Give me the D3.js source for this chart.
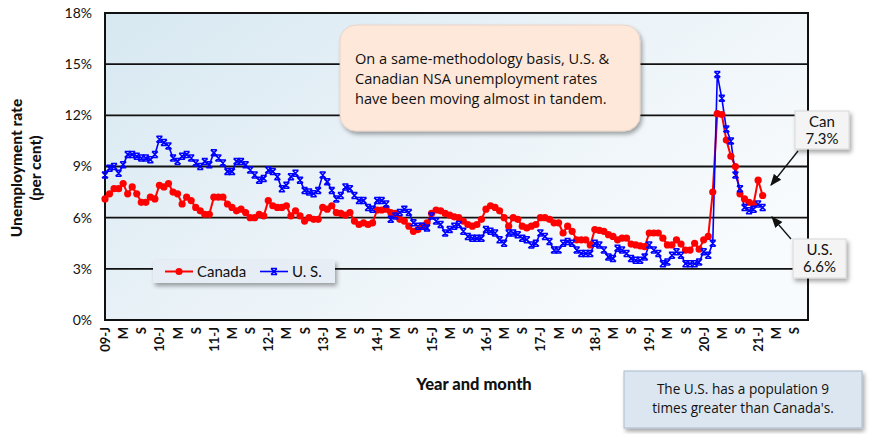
<!DOCTYPE html>
<html><head><meta charset="utf-8">
<script src="https://cdn.jsdelivr.net/npm/d3@7/dist/d3.min.js"></script>
<style>body{margin:0;background:#fff}svg{display:block}</style>
</head><body><svg id="c" width="870" height="434"></svg>
<script>
const years = [2009,2010,2011,2012,2013,2014,2015,2016,2017,2018,2019,2020,2021];
const monthLetters = ["J","F","M","A","M","J","J","A","S","O","N","D"];
const yTicks = [0,3,6,9,12,15,18];
const canada = [7.1,7.4,7.7,7.7,8.0,7.4,7.8,7.4,6.9,6.9,7.2,7.1,
 7.9,7.8,8.0,7.5,7.4,6.8,7.2,7.0,6.6,6.4,6.2,6.2,
 7.2,7.2,7.2,6.8,6.6,6.4,6.5,6.3,6.0,6.0,6.2,6.1,
 7.0,6.7,6.6,6.6,6.7,6.1,6.4,6.1,5.8,6.0,5.9,5.9,
 6.6,6.5,6.7,6.3,6.25,6.15,6.3,5.8,5.6,5.7,5.6,5.7,
 6.45,6.45,6.5,6.3,6.25,5.9,5.8,5.5,5.2,5.3,5.5,5.7,
 6.25,6.45,6.4,6.25,6.15,6.05,6.0,5.8,5.6,5.5,5.6,5.9,
 6.5,6.7,6.6,6.4,6.0,5.5,6.0,5.9,5.5,5.4,5.5,5.6,
 6.0,6.0,5.9,5.7,5.7,5.1,5.5,5.2,4.7,4.7,4.7,4.4,
 5.3,5.25,5.2,5.0,4.9,4.7,4.8,4.8,4.45,4.4,4.35,4.3,
 5.1,5.1,5.1,4.8,4.4,4.4,4.7,4.45,4.1,4.1,4.5,4.15,
 4.7,4.9,7.5,12.1,12.05,10.55,9.6,9.0,7.4,7.1,6.9,6.8,
 8.2,7.3];
const us = [8.5,8.9,9.0,8.6,9.1,9.7,9.7,9.6,9.5,9.5,9.4,9.7,
 10.6,10.4,10.2,9.5,9.3,9.6,9.7,9.5,9.2,9.0,9.3,9.1,
 9.8,9.5,9.2,8.7,8.7,9.3,9.3,9.1,8.8,8.5,8.2,8.3,
 8.8,8.7,8.4,7.7,7.9,8.4,8.6,8.2,7.6,7.5,7.4,7.6,
 8.5,8.1,7.6,7.1,7.3,7.8,7.7,7.3,7.0,7.0,6.6,6.5,
 7.0,7.0,6.8,5.9,6.1,6.3,6.5,6.3,5.7,5.5,5.5,5.4,
 6.1,5.8,5.6,5.1,5.3,5.5,5.6,5.2,4.9,4.8,4.8,4.8,
 5.3,5.2,5.1,4.7,4.5,5.1,5.1,5.0,4.8,4.7,4.4,4.5,
 5.1,4.9,4.6,4.1,4.1,4.5,4.6,4.5,4.1,3.9,3.9,3.9,
 4.5,4.4,4.1,3.7,3.6,4.2,4.1,3.9,3.6,3.5,3.5,3.7,
 4.4,4.1,3.9,3.3,3.4,3.8,4.0,3.8,3.3,3.3,3.3,3.4,
 4.0,3.8,4.5,14.4,13.0,11.2,10.5,8.5,7.7,6.6,6.4,6.5,
 6.8,6.6];

const months = [];
years.forEach(y => monthLetters.forEach((m, k) => months.push({y, k, key: y + "-" + k})));

const svg = d3.select("#c");
const L = 105, R = 808, T = 13, B = 320;
const x = d3.scalePoint().domain(months.map(d => d.key)).range([L, R]).padding(0);
const y = d3.scaleLinear().domain([0, 18]).range([B, T]);

const defs = svg.append("defs");
const g1 = defs.append("linearGradient").attr("id","bg").attr("x1","0").attr("y1","0").attr("x2","1").attr("y2","0.6");
g1.append("stop").attr("offset","0").attr("stop-color","#d7e8f1");
g1.append("stop").attr("offset","0.55").attr("stop-color","#ebf3f8");
g1.append("stop").attr("offset","1").attr("stop-color","#f8fbfd");
const f = defs.append("filter").attr("id","sh").attr("x","-10%").attr("y","-10%").attr("width","130%").attr("height","140%");
f.append("feDropShadow").attr("dx",2).attr("dy",3).attr("stdDeviation",2).attr("flood-color","#000").attr("flood-opacity",0.35);

svg.append("rect").attr("x",L).attr("y",T).attr("width",R-L).attr("height",B-T).attr("fill","url(#bg)");

// gridlines
svg.append("g").selectAll("line").data(yTicks.filter(v => v > 0 && v < 18)).join("line")
  .attr("x1",L).attr("x2",R).attr("y1",d=>y(d)).attr("y2",d=>y(d))
  .attr("stroke","#111").attr("stroke-width",1.8);

// y axis labels
const yAxis = d3.axisLeft(y).tickValues(yTicks).tickFormat(d => d + "%").tickSize(0).tickPadding(13);
const ya = svg.append("g").attr("transform",`translate(${L},0)`).call(yAxis);
ya.select(".domain").remove();
ya.selectAll("text").attr("font-family","Lato, sans-serif").attr("font-size",14).attr("fill","#111");

// x axis labels
const tickKeys = months.filter((d,i) => i % 4 === 0).map(d => d.key);
const xAxis = d3.axisBottom(x).tickValues(tickKeys).tickSize(0)
  .tickFormat(k => { const d = months.find(m => m.key === k); return d.k === 0 ? String(d.y).slice(2) + "-J" : monthLetters[d.k]; });
const xa = svg.append("g").attr("transform",`translate(0,${B})`).call(xAxis);
xa.select(".domain").remove();
xa.selectAll("text").attr("font-family","Lato, sans-serif").attr("font-size",13).attr("font-weight","bold").attr("fill","#111")
  .attr("transform","rotate(-90)").attr("text-anchor","end").attr("x",-7).attr("y",0).attr("dy","0.35em");

// border
svg.append("rect").attr("x",L).attr("y",T).attr("width",R-L).attr("height",B-T).attr("fill","none").attr("stroke","#111").attr("stroke-width",2);

// series
const line = d3.line().x((d,i) => x(months[i].key)).y(d => y(d));
svg.append("path").datum(canada).attr("d",line).attr("fill","none").attr("stroke","#ff0000").attr("stroke-width",2);
svg.append("path").datum(us).attr("d",line).attr("fill","none").attr("stroke","#0000ff").attr("stroke-width",1.6);
svg.append("g").selectAll("circle").data(canada).join("circle")
  .attr("cx",(d,i)=>x(months[i].key)).attr("cy",d=>y(d)).attr("r",3.6).attr("fill","#ff0000");
function xMark(g, cx, cy) {
  const s = 3;
  g.append("path").attr("d",`M${cx-s},${cy-s}L${cx+s},${cy+s}M${cx+s},${cy-s}L${cx-s},${cy+s}M${cx-s},${cy-s}H${cx+s}M${cx-s},${cy+s}H${cx+s}`)
   .attr("stroke","#0000ff").attr("stroke-width",1.5).attr("fill","none");
}
const um = svg.append("g");
us.forEach((d,i) => xMark(um, x(months[i].key), y(d)));

// legend
const lg = svg.append("g");
lg.append("rect").attr("x",153).attr("y",260).attr("width",182).attr("height",23).attr("fill","#e6edf5").attr("filter","url(#sh)");
lg.append("line").attr("x1",165).attr("x2",193).attr("y1",271.5).attr("y2",271.5).attr("stroke","#ff0000").attr("stroke-width",2);
lg.append("circle").attr("cx",179).attr("cy",271.5).attr("r",3.6).attr("fill","#ff0000");
lg.append("text").attr("x",197).attr("y",276.5).text("Canada").attr("font-family","Lato, sans-serif").attr("font-size",15).attr("fill","#111");
lg.append("line").attr("x1",260).attr("x2",288).attr("y1",271.5).attr("y2",271.5).attr("stroke","#0000ff").attr("stroke-width",1.6);
xMark(lg, 274, 271.5);
lg.append("text").attr("x",292).attr("y",276.5).text("U. S.").attr("font-family","Lato, sans-serif").attr("font-size",15).attr("fill","#111");

// axis titles
const yt = svg.append("text").attr("transform","translate(22,168) rotate(-90)").attr("text-anchor","middle")
  .attr("font-family","Lato, sans-serif").attr("font-weight","900").attr("font-size",15.5).attr("fill","#111");
yt.append("tspan").attr("x",0).attr("dy","0").text("Unemployment rate");
yt.append("tspan").attr("x",0).attr("dy","1.25em").text("(per cent)");
svg.append("text").attr("x",474).attr("y",390).attr("text-anchor","middle").attr("font-family","Lato, sans-serif")
  .attr("font-weight","900").attr("font-size",16.5).attr("fill","#111").text("Year and month");

// annotation 1
svg.append("rect").attr("x",340).attr("y",25).attr("width",300).attr("height",106).attr("rx",16)
  .attr("fill","#fde8da").attr("stroke","#e8cfc0").attr("stroke-width",0.8).attr("filter","url(#sh)");
const a1 = svg.append("text").attr("font-family","'Open Sans', sans-serif").attr("font-size",14.6).attr("fill","#111");
["On a same-methodology basis, U.S. &","Canadian NSA unemployment rates","have been moving almost in tandem."]
  .forEach((t,i) => a1.append("tspan").attr("x",355).attr("y",64 + i*20).text(t));

// callouts
defs.append("marker").attr("id","ah").attr("viewBox","0 0 10 10").attr("refX",9).attr("refY",5)
  .attr("markerWidth",9).attr("markerHeight",9).attr("orient","auto")
  .append("path").attr("d","M0,1L10,5L0,9Z").attr("fill","#111");
function callout(bx, by, bw, bh, lines, ax1, ay1, ax2, ay2) {
  svg.append("line").attr("x1",ax1).attr("y1",ay1).attr("x2",ax2).attr("y2",ay2).attr("stroke","#111").attr("stroke-width",1.3).attr("marker-end","url(#ah)");
  svg.append("rect").attr("x",bx).attr("y",by).attr("width",bw).attr("height",bh).attr("fill","#f4f4f4").attr("stroke","#d8d8d8").attr("filter","url(#sh)");
  const t = svg.append("text").attr("text-anchor","middle").attr("font-family","Lato, sans-serif").attr("font-size",15).attr("fill","#111");
  lines.forEach((s,i) => t.append("tspan").attr("x",bx+bw/2).attr("y",by+16+i*17).text(s));
}
callout(795,111,54,38,["Can","7.3%"],798,151,771,185);
callout(793,239,53,39,["U.S.","6.6%"],791,239,772,217);

// bottom box
svg.append("rect").attr("x",624).attr("y",371).attr("width",238).attr("height",57).attr("fill","#dce6f0").attr("stroke","#a9b9cc").attr("filter","url(#sh)");
const a2 = svg.append("text").attr("text-anchor","middle").attr("font-family","'Open Sans', sans-serif").attr("font-size",13.6).attr("fill","#111");
["The U.S. has a population 9","times greater than Canada's."].forEach((t,i) => a2.append("tspan").attr("x",743).attr("y",394 + i*18.5).text(t));
</script></body></html>
